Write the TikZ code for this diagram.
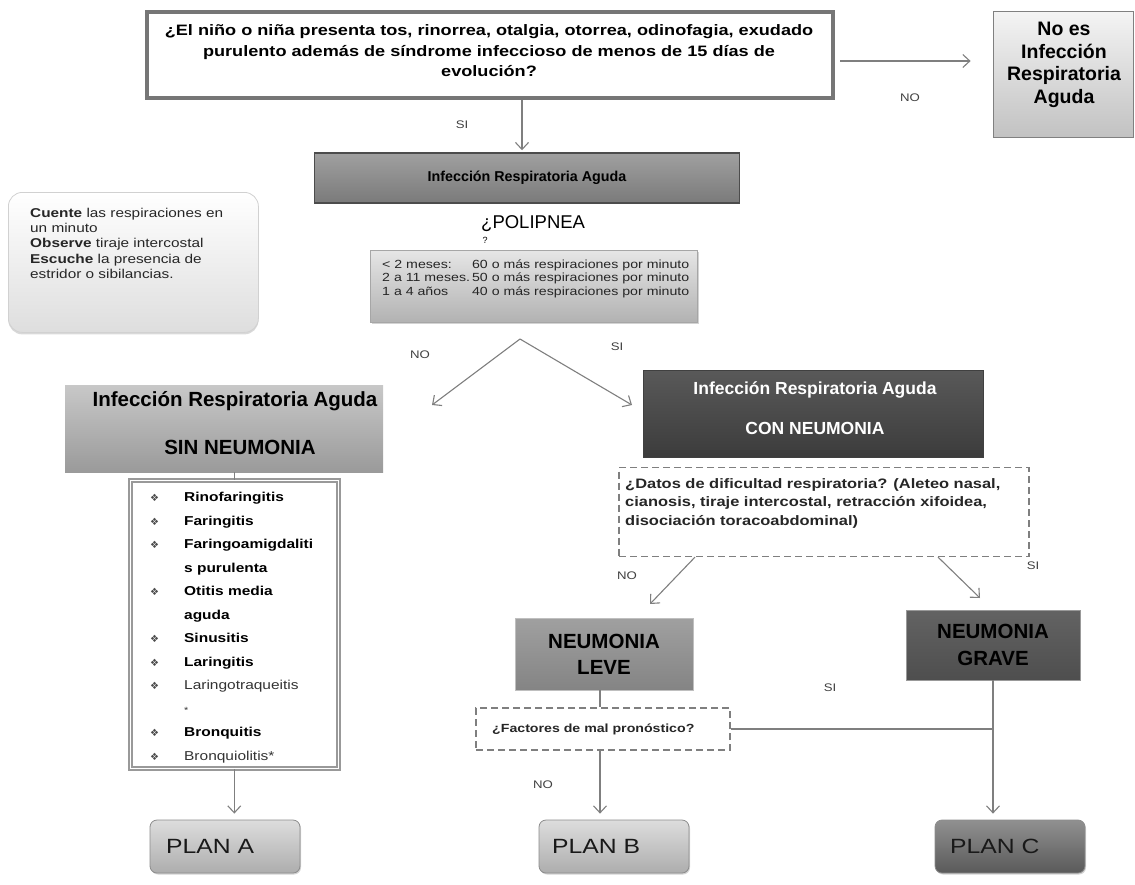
\documentclass[tikz,border=0pt]{standalone}
\usepackage{fontspec}
\setmainfont{Liberation Sans}
\newfontfamily\wide[FakeStretch=1.2]{Liberation Sans}
\newfontfamily\dejavu{DejaVu Sans}
\usetikzlibrary{arrows.meta,shadows}
\definecolor{lg}{HTML}{7F7F7F}
\definecolor{qborder}{HTML}{767676}
\definecolor{noesT}{HTML}{F4F4F4}
\definecolor{noesB}{HTML}{C2C2C2}
\definecolor{iraT}{HTML}{A0A0A0}
\definecolor{iraB}{HTML}{7A7A7A}
\definecolor{tabT}{HTML}{E6E6E6}
\definecolor{tabB}{HTML}{B2B2B2}
\definecolor{sinT}{HTML}{C8C8C8}
\definecolor{sinB}{HTML}{9A9A9A}
\definecolor{conT}{HTML}{595959}
\definecolor{conB}{HTML}{3C3C3C}
\definecolor{leveT}{HTML}{A0A0A0}
\definecolor{leveB}{HTML}{848484}
\definecolor{graveT}{HTML}{636363}
\definecolor{graveB}{HTML}{4E4E4E}
\definecolor{planT}{HTML}{DDDDDD}
\definecolor{planB}{HTML}{ADADAD}
\definecolor{planCT}{HTML}{909090}
\definecolor{planCB}{HTML}{5A5A5A}
\newcommand\fs[2]{\fontsize{#1}{#2}\selectfont}
\newcommand\bul{{\dejavu\fs{10}{10}\textcolor{black!70}{❖}}}
\begin{document}
\begin{tikzpicture}[x=1pt,y=-1pt,
  line/.style={draw=lg, line width=1.1pt},
  conn/.style={line, -{Straight Barb[length=7pt,width=13pt]}},
  lbl/.style={inner sep=0pt, text=black!75, font=\wide\fs{11}{13}},
  gbox/.style={inner sep=0pt, align=center},
  dbox/.style={draw=lg, line width=1.2pt, dash pattern=on 7pt off 4pt, fill=white, inner sep=0pt},
  plantxt/.style={anchor=west, inner sep=0pt, font=\wide\fs{20.6}{24}, text=black!90},
  planbox/.style={draw=black!45, line width=0.8pt, rounded corners=7pt, minimum width=150pt, minimum height=53pt, inner sep=0pt, drop shadow={shadow xshift=1pt, shadow yshift=-1.5pt, opacity=0.35}}
]
\useasboundingbox (0,0) rectangle (1135,884);

% top question
\node[gbox, draw=qborder, line width=4pt, fill=white, minimum width=686pt, minimum height=86pt,
  drop shadow={shadow xshift=1pt, shadow yshift=-1pt, opacity=0.3}] (q) at (490,55) {};
\node[gbox, font=\wide\bfseries\fs{15.1}{20.5}] (qtxt) at (489,51)
  {¿El niño o niña presenta tos, rinorrea, otalgia, otorrea, odinofagia, exudado\\
   purulento además de síndrome infeccioso de menos de 15 días de\\ evolución?};

\node[gbox, draw=black!50, line width=0.8pt, top color=noesT, bottom color=noesB,
  minimum width=140pt, minimum height=126pt,
  drop shadow={shadow xshift=1pt, shadow yshift=-1pt, opacity=0.3}] (noes) at (1063,74) {};
\node[gbox, font=\bfseries\fs{19.5}{22.5}] (noestxt) at (1064,65) {No es\\Infección\\Respiratoria\\Aguda};

\node[gbox, draw=black!70, line width=1.5pt, top color=iraT, bottom color=iraB,
  minimum width=425pt, minimum height=50pt, font=\bfseries\fs{14.3}{16}] (ira) at (527,178)
  {Infección Respiratoria Aguda};

% note box
\node[draw=black!18, line width=0.8pt, rounded corners=14pt, top color=white, bottom color=black!13,
  minimum width=250pt, minimum height=140pt, anchor=north west, inner sep=0pt,
  drop shadow={shadow xshift=0pt, shadow yshift=-2pt, opacity=0.3}] (note) at (8,192) {};
\node[anchor=north west, inner sep=0pt, align=left, font=\wide\fs{12.8}{15.2}, text=black!85] (notetxt) at (30,208)
  {\textbf{Cuente} las respiraciones en\\un minuto\\\textbf{Observe} tiraje intercostal\\
   \textbf{Escuche} la presencia de\\estridor o sibilancias.};

% polipnea
\node[anchor=north west, inner sep=0pt, font=\fs{18.5}{20}] (pol) at (481,215) {¿POLIPNEA};
\node[inner sep=0pt, font=\fs{9}{10}] (polq) at (485,240) {?};

\node[draw=black!35, line width=0.8pt, top color=tabT, bottom color=tabB,
  minimum width=327pt, minimum height=72pt, inner sep=0pt,
  drop shadow={shadow xshift=2pt, shadow yshift=-2pt, opacity=0.35}] (tabla) at (533.5,286) {};
\node[anchor=north west, inner sep=0pt, font=\wide\fs{11.8}{13.3}, text=black!85] (tabtxt) at (382,259)
  {\begin{tabular}{@{}l@{\hspace{2pt}}l@{}}
   < 2 meses: & 60 o más respiraciones por minuto\\
   2 a 11 meses. & 50 o más respiraciones por minuto\\
   1 a 4 años & 40 o más respiraciones por minuto
   \end{tabular}};

\coordinate (apex) at (520,339);
\coordinate (tipL) at (432,405);
\coordinate (tipR) at (632,405);

% SIN NEUMONIA
\node[gbox, top color=sinT, bottom color=sinB, minimum width=318pt, minimum height=87pt] (sin) at (224,428.5) {};
\node[inner sep=0pt, font=\bfseries\fs{20.5}{22}] (sint1) at (235,401) {Infección Respiratoria Aguda};
\node[inner sep=0pt, font=\bfseries\fs{20.5}{22}] (sint2) at (240,447) {SIN NEUMONIA};

% list box
\node[draw=black!40, double=white, double distance=1.6pt, line width=1.6pt, fill=white,
  minimum width=208pt, minimum height=288pt, anchor=north west, inner sep=0pt] (list) at (129.5,479.5) {};
\node[anchor=north west, inner sep=0pt, font=\wide\bfseries\fs{12.9}{23.5}] (listtxt) at (150,485)
  {\begin{tabular}{@{}l@{\hspace{25pt}}l@{}}
   \bul & Rinofaringitis\\
   \bul & Faringitis\\
   \bul & Faringoamigdaliti\\
        & s purulenta\\
   \bul & Otitis media\\
        & aguda\\
   \bul & Sinusitis\\
   \bul & Laringitis\\
   \bul & \mdseries\textcolor{black!80}{Laringotraqueitis}\\
        & \mdseries\textcolor{black!80}{\fs{9}{23.5}*}\\
   \bul & Bronquitis\\
   \bul & \mdseries\textcolor{black!80}{Bronquiolitis*}
   \end{tabular}};

% CON NEUMONIA
\node[gbox, draw=black!75, line width=0.8pt, top color=conT, bottom color=conB,
  minimum width=340pt, minimum height=87pt] (con) at (813,413.5) {};
\node[inner sep=0pt, text=white, font=\bfseries\fs{17.5}{20}] (cont1) at (815,390) {Infección Respiratoria Aguda};
\node[inner sep=0pt, text=white, font=\bfseries\fs{17.5}{20}] (cont2) at (815,428) {CON NEUMONIA};

\node[dbox, minimum width=410pt, minimum height=89pt] (datos) at (824,512) {};
\node[anchor=north west, inner sep=0pt, align=left, font=\wide\bfseries\fs{13.7}{18.7}, text=black!85] (datostxt) at (625,478)
  {¿Datos de dificultad respiratoria? (Aleteo nasal,\\cianosis, tiraje intercostal, retracción xifoidea,\\disociación toracoabdominal)};

\coordinate (tipNO) at (650,604);
\coordinate (tipSI) at (980,598);

\node[gbox, draw=black!25, line width=0.6pt, top color=leveT, bottom color=leveB,
  minimum width=178pt, minimum height=72pt, font=\bfseries\fs{20.5}{26}] (leve) at (604,654) {NEUMONIA\\LEVE};
\node[gbox, draw=black!40, line width=0.6pt, top color=graveT, bottom color=graveB,
  minimum width=174pt, minimum height=70pt, font=\bfseries\fs{20.5}{27}] (grave) at (993,645) {NEUMONIA\\GRAVE};

\node[dbox, minimum width=254pt, minimum height=42pt] (fact) at (603,729) {};
\node[anchor=west, inner sep=0pt, font=\wide\bfseries\fs{11.8}{13}, text=black!85] (facttxt) at (492,729) {¿Factores de mal pronóstico?};

% plans
\node[planbox, top color=planT, bottom color=planB] (planA) at (225,846.5) {};
\node[plantxt] (planAt) at (166,846) {PLAN A};
\node[planbox, top color=planT, bottom color=planB] (planB) at (614,846.5) {};
\node[plantxt] (planBt) at (552,846) {PLAN B};
\node[planbox, top color=planCT, bottom color=planCB] (planC) at (1010,846.5) {};
\node[plantxt] (planCt) at (950,846) {PLAN C};

% labels
\node[lbl] (noq) at (910,98) {NO};
\node[lbl] (siq) at (462,125) {SI};
\node[lbl] (nop) at (420,355) {NO};
\node[lbl] (sip) at (617,347) {SI};
\node[lbl] (nod) at (627,576) {NO};
\node[lbl] (sid) at (1033,566) {SI};
\node[lbl] (sif) at (830,688) {SI};
\node[lbl] (nof) at (543,785) {NO};

% connectors
\draw[conn, shorten <=5pt, shorten >=22pt] ([yshift=-6pt]q.east) -- ([yshift=-6pt]q.east -| noes.west);
\draw[conn, shorten >=2pt] ([xshift=32pt]q.south) -- ([xshift=32pt]q.south |- ira.north);
\draw[conn] (apex) -- (tipL);
\draw[conn] (apex) -- (tipR);
\draw[line] (list.north |- sin.south) -- (list.north);
\draw[conn, shorten >=6pt] (list.south) -- (list.south |- planA.north);
\draw[conn] ([xshift=-129pt]datos.south) -- (tipNO);
\draw[conn] ([xshift=114pt]datos.south) -- (tipSI);
\draw[line] ([xshift=-4pt]leve.south) -- ([xshift=-4pt]leve.south |- fact.north);
\draw[conn, shorten >=6pt] ([xshift=-3pt]fact.south) -- ([xshift=-3pt]fact.south |- planB.north);
\draw[line] (fact.east) -- (fact.east -| grave.south);
\draw[conn, shorten >=6pt] (grave.south) -- (grave.south |- planC.north);
\end{tikzpicture}
\end{document}
